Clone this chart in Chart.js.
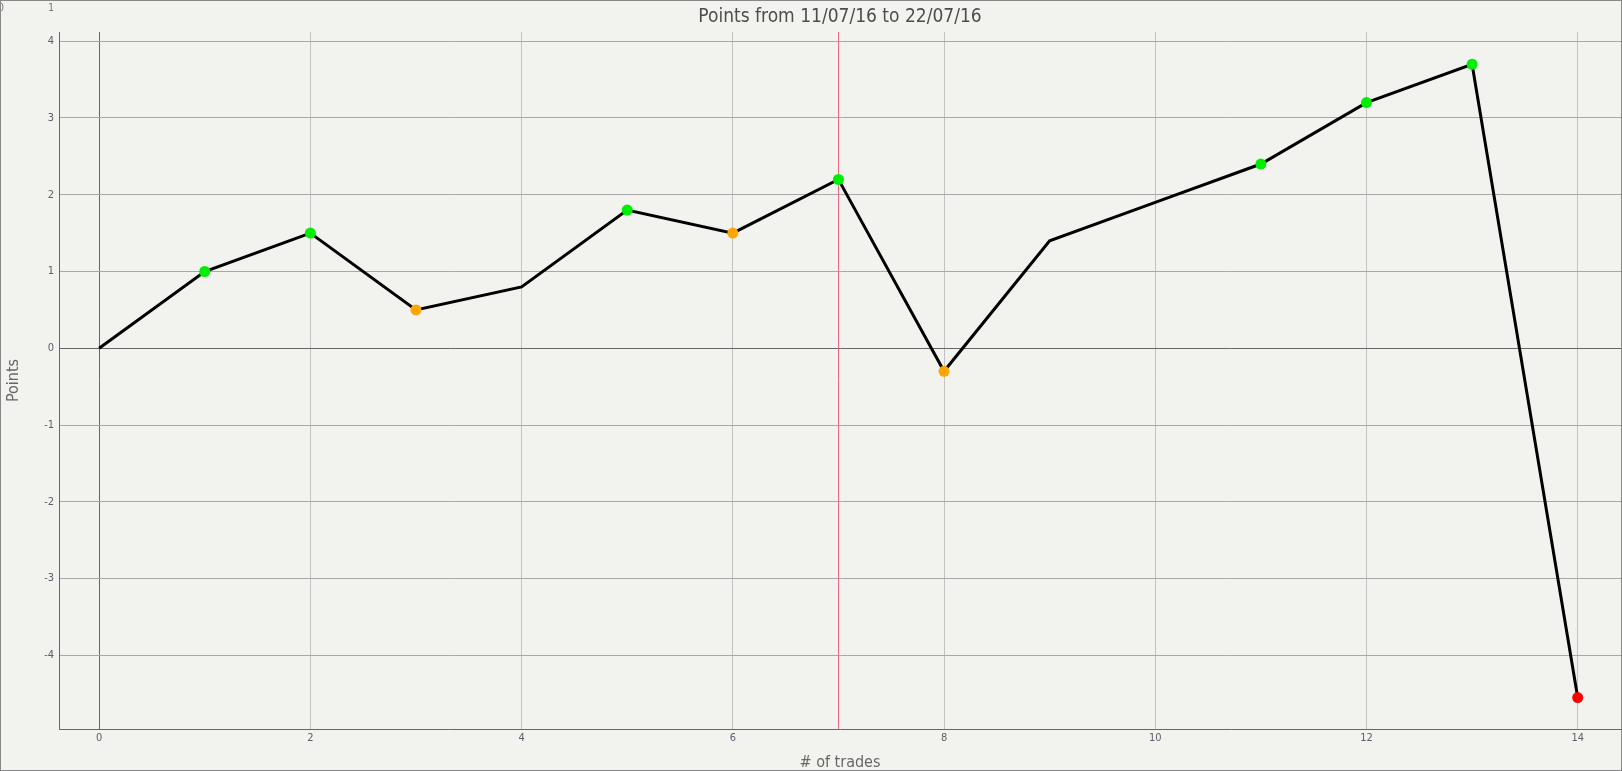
<!DOCTYPE html>
<html>
<head>
<meta charset="utf-8">
<title>Points from 11/07/16 to 22/07/16</title>
<script src="https://cdn.jsdelivr.net/npm/chart.js@4"></script>
<style>
  html, body { margin: 0; padding: 0; background: #f2f2ee; }
  #wrap { position: relative; width: 1622px; height: 771px; }
</style>
</head>
<body>
<div id="wrap"><canvas id="pointsChart" width="1622" height="771"></canvas></div>
<script>
// trade data
const tradeNo = [0, 1, 2, 3, 4, 5, 6, 7, 8, 9, 10, 11, 12, 13, 14];
const points = [0, 1.0, 1.5, 0.5, 0.8, 1.8, 1.5, 2.2, -0.3, 1.4, 1.9, 2.4, 3.2, 3.7, -4.55];
// marker colour per trade ('' = no marker)
const markerColors = ['', 'lime', 'lime', 'orange', '', 'lime', 'orange', 'lime', 'orange', '', '', 'lime', 'lime', 'lime', 'red'];
const markerLine = 7; // red vertical marker
const chartTitle = 'Points from 11/07/16 to 22/07/16';
const xTitle = '# of trades';
const yTitle = 'Points';
const cornerLabels = ['0', '1'];

const colorMap = { lime: '#00ee00', orange: '#ffa500', red: '#ff0000' };
const FONT = '"DejaVu Sans Condensed", "DejaVu Sans", sans-serif';

const decorPlugin = {
  id: 'decor',
  beforeDraw(chart) {
    const c = chart.ctx;
    c.save();
    c.fillStyle = '#f2f2ee';
    c.fillRect(0, 0, chart.width, chart.height);
    c.restore();
  },
  beforeDatasetsDraw(chart) {
    // red vertical line
    const c = chart.ctx, a = chart.chartArea;
    const px = Math.round(chart.scales.x.getPixelForValue(markerLine)) + 0.5;
    c.save();
    c.strokeStyle = '#e9677f';
    c.lineWidth = 1;
    c.beginPath();
    c.moveTo(px, a.top);
    c.lineTo(px, a.bottom);
    c.stroke();
    c.restore();
  },
  afterDraw(chart) {
    const c = chart.ctx, a = chart.chartArea;
    c.save();
    // title
    c.fillStyle = '#4d4d4d';
    c.font = '19px ' + FONT;
    c.textAlign = 'center';
    c.textBaseline = 'middle';
    c.fillText(chartTitle, (a.left + a.right) / 2, 17);
    // stray corner labels
    c.fillStyle = '#777';
    c.font = '10px ' + FONT;
    c.fillText(cornerLabels[0], 1, 8);
    c.fillText(cornerLabels[1], 51, 8);
    // outer frame
    c.strokeStyle = '#888';
    c.lineWidth = 1;
    c.strokeRect(0.5, 0.5, chart.width - 1, chart.height - 1);
    c.restore();
  }
};

const ctx = document.getElementById('pointsChart').getContext('2d');
new Chart(ctx, {
  type: 'line',
  data: {
    datasets: [{
      data: tradeNo.map((x, i) => ({ x, y: points[i] })),
      borderColor: '#000',
      borderWidth: 3,
      tension: 0,
      pointRadius: markerColors.map(m => (m ? 5.5 : 0)),
      pointBackgroundColor: markerColors.map(m => colorMap[m] || '#000'),
      pointBorderWidth: 0,
      pointHoverRadius: 0
    }]
  },
  options: {
    responsive: false,
    animation: false,
    layout: { autoPadding: false, padding: { top: 32, right: 1, left: 0, bottom: 0 } },
    plugins: {
      legend: { display: false },
      tooltip: { enabled: false }
    },
    scales: {
      x: {
        type: 'linear',
        min: -0.38,
        max: 14.41,
        afterFit: s => { s.height = 42; s.paddingRight = 0; s.paddingLeft = 0; },
        afterBuildTicks: s => { s.ticks = s.ticks.filter(t => t.value % 2 === 0); },
        ticks: { stepSize: 2, includeBounds: false, padding: 3, color: '#5a5f6a', font: { family: FONT, size: 11 } },
        grid: { drawTicks: false, color: c => (c.tick && c.tick.value === 0 ? '#666' : '#c2c2c2') },
        border: { display: true, color: '#666', width: 1 },
        title: { display: true, text: xTitle, color: '#666', font: { family: FONT, size: 16 }, padding: { top: 0, bottom: -1 } }
      },
      y: {
        min: -4.96,
        max: 4.12,
        afterFit: s => { s.width = 59; s.paddingTop = 0; s.paddingBottom = 0; },
        afterBuildTicks: s => { s.ticks = s.ticks.filter(t => Number.isInteger(t.value)); },
        ticks: { stepSize: 1, includeBounds: false, padding: 5, color: '#5a5f6a', font: { family: FONT, size: 11 } },
        grid: { drawTicks: false, color: c => (c.tick && c.tick.value === 0 ? '#666' : '#a8a8a8') },
        border: { display: true, color: '#666', width: 1 },
        title: { display: true, text: yTitle, color: '#666', font: { family: FONT, size: 16 }, padding: { top: 4, bottom: 0 } }
      }
    }
  },
  plugins: [decorPlugin]
});
</script>
</body>
</html>
